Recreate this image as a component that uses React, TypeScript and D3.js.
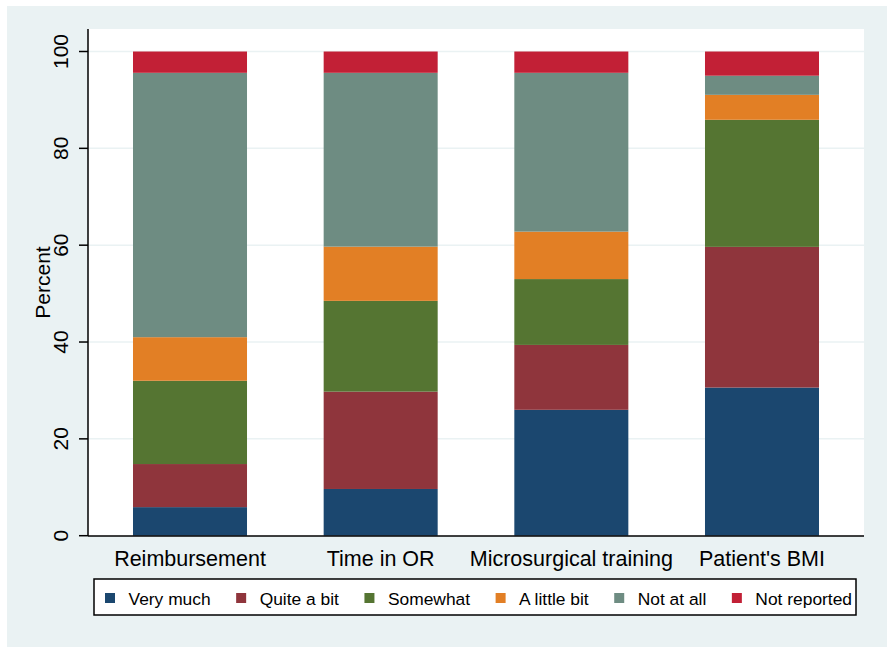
import React, { useEffect, useRef } from "react";
import * as d3 from "d3";

const categories = ["Reimbursement", "Time in OR", "Microsurgical training", "Patient's BMI"];
const seriesNames = ["Very much", "Quite a bit", "Somewhat", "A little bit", "Not at all", "Not reported"];
const veryMuch = [5.9, 9.65, 26.0, 30.6];
const quiteABit = [8.9, 20.1, 13.4, 29.05];
const somewhat = [17.2, 18.75, 13.6, 26.25];
const aLittleBit = [9.0, 11.2, 9.8, 5.15];
const notAtAll = [54.6, 35.9, 32.8, 3.95];
const notReported = [4.4, 4.4, 4.4, 5.0];
const yTicks = [0, 20, 40, 60, 80, 100];
const colors = ["#1b476f", "#8f353c", "#557532", "#e27f25", "#6e8c82", "#c22036"];

export default function App() {
  const ref = useRef<SVGSVGElement | null>(null);

  useEffect(() => {
    const svg = d3.select(ref.current);
    svg.selectAll("*").remove();
    const W = 894, H = 653;
    const font = "'Liberation Sans', Arial, sans-serif";
    const bg = "#eaf2f3";

    svg.append("rect").attr("x", 0).attr("y", 0).attr("width", W).attr("height", H).attr("fill", "#ffffff");
    svg.append("rect").attr("x", 7).attr("y", 6).attr("width", 880).attr("height", 641).attr("fill", bg);

    const left = 88, right = 864, top = 29, bottom = 536;
    svg.append("rect").attr("x", left).attr("y", top).attr("width", right - left).attr("height", bottom - top).attr("fill", "#ffffff");

    const y = d3.scaleLinear().domain([0, 100]).range([535.7, 51.5]);
    const x = d3.scaleBand().domain(categories).range([left, right]).paddingInner(0.402).paddingOuter(0.236);

    // gridlines
    svg.append("g").selectAll("line").data(yTicks.filter(t => t > 0)).join("line")
      .attr("x1", left).attr("x2", right)
      .attr("y1", d => y(d)).attr("y2", d => y(d))
      .attr("stroke", bg).attr("stroke-width", 1.5);

    const series = [veryMuch, quiteABit, somewhat, aLittleBit, notAtAll, notReported];
    const rows = categories.map((c, i) => {
      const r: any = { cat: c };
      seriesNames.forEach((s, j) => { r[s] = series[j][i]; });
      return r;
    });
    const stacked = d3.stack().keys(seriesNames)(rows);

    svg.append("g").selectAll("g").data(stacked).join("g")
      .attr("fill", (d, i) => colors[i])
      .selectAll("rect").data(d => d).join("rect")
      .attr("x", (d: any) => x(d.data.cat) as number)
      .attr("width", x.bandwidth())
      .attr("y", (d: any) => y(d[1]))
      .attr("height", (d: any) => y(d[0]) - y(d[1]));

    // axes
    svg.append("line").attr("x1", left).attr("x2", left).attr("y1", top).attr("y2", bottom)
      .attr("stroke", "#000").attr("stroke-width", 1.5);
    svg.append("line").attr("x1", left).attr("x2", right).attr("y1", bottom).attr("y2", bottom)
      .attr("stroke", "#000").attr("stroke-width", 1.5);

    const tg = svg.append("g");
    tg.selectAll("line").data(yTicks).join("line")
      .attr("x1", left - 9).attr("x2", left).attr("y1", d => y(d)).attr("y2", d => y(d))
      .attr("stroke", "#000").attr("stroke-width", 1.5);
    tg.selectAll("text").data(yTicks).join("text")
      .attr("transform", d => `translate(68,${y(d)}) rotate(-90)`)
      .attr("text-anchor", "middle")
      .attr("font-family", font).attr("font-size", 21).attr("fill", "#000")
      .text(d => String(d));

    svg.append("text")
      .attr("transform", `translate(50,${(top + bottom) / 2}) rotate(-90)`)
      .attr("text-anchor", "middle")
      .attr("font-family", font).attr("font-size", 21).attr("fill", "#000")
      .text("Percent");

    svg.append("g").selectAll("text").data(categories).join("text")
      .attr("x", d => (x(d) as number) + x.bandwidth() / 2)
      .attr("y", 566)
      .attr("text-anchor", "middle")
      .attr("font-family", font).attr("font-size", 21.5).attr("fill", "#000")
      .text(d => d);

    // legend
    svg.append("rect").attr("x", 94).attr("y", 579).attr("width", 762).attr("height", 36)
      .attr("fill", "#fff").attr("stroke", "#000").attr("stroke-width", 1.5);
    const lg = svg.append("g");
    let cx = 105;
    seriesNames.forEach((s, i) => {
      lg.append("rect").attr("x", cx).attr("y", 593).attr("width", 10).attr("height", 10).attr("fill", colors[i]);
      const t = lg.append("text").attr("x", cx + 23.5).attr("y", 605)
        .attr("font-family", font).attr("font-size", 17.4).attr("fill", "#000").text(s);
      const w = (t.node() as SVGTextElement).getComputedTextLength();
      cx = cx + 23.5 + w + 25.5;
    });
  }, []);

  return (
    <svg ref={ref} width={894} height={653}
      style={{ position: "absolute", left: 0, top: 0, display: "block" }} />
  );
}
